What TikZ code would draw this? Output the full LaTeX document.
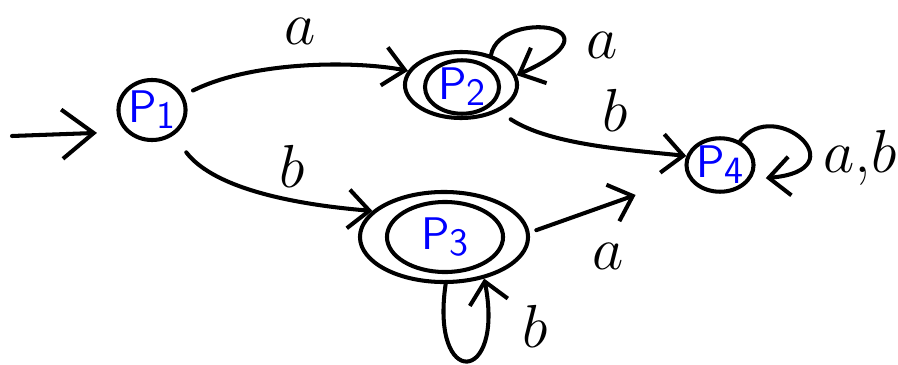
\documentclass[tikz,border=0pt]{standalone}
\usetikzlibrary{arrows.meta,shapes.geometric}
\begin{document}
\begin{tikzpicture}[x=0.01cm,y=-0.01cm, line width=1.15pt, line cap=round, line join=round,
  edge/.style={-{Straight Barb[length=6pt,width=11pt,line width=1.15pt]}},
  startedge/.style={-{Straight Barb[length=9pt,width=14pt,line width=1.15pt]}},
  lab/.style={font=\fontsize{19}{19}\selectfont, inner sep=1pt},
  st/.style={draw, ellipse, inner sep=0pt, text=blue, font=\sffamily\fontsize{13}{13}\selectfont},
  ring/.style={draw, ellipse, inner sep=0pt}]
\useasboundingbox (0,0) rectangle (898,364);
% states
\node[st, minimum width=0.6cm, minimum height=0.6cm] (p1) at (152,110) {P\raisebox{-0.3ex}{\fontsize{11}{11}\selectfont 1}};
\node[ring, minimum width=1.12cm, minimum height=0.66cm] (p2) at (461,85) {};
\node[st, minimum width=0.74cm, minimum height=0.44cm] (p2i) at (462,87) {P\raisebox{-0.3ex}{\fontsize{11}{11}\selectfont 2}};
\node[ring, minimum width=1.68cm, minimum height=0.9cm] (p3) at (444,237) {};
\node[st, minimum width=1.16cm, minimum height=0.7cm] (p3i) at (445,237) {P\raisebox{-0.3ex}{\fontsize{11}{11}\selectfont 3}};
\node[st, minimum width=0.55cm, minimum height=0.5cm] (p4) at (720,165) {P\raisebox{-0.3ex}{\fontsize{11}{11}\selectfont 4}};
% start arrow
\coordinate (s) at (12,136);
\draw[startedge, shorten >=0.29cm] (s) -- (p1.220);
% transitions
\draw[edge, shorten <=3pt] (p1.25) .. controls (250,62) and (350,60) .. (p2.165);
\draw[edge, shorten <=6pt] (p1.-50) .. controls (215,190) and (300,205) .. (p3.160);
\draw[edge, shorten <=4pt] (p2.-35) .. controls (550,145) and (630,150) .. (p4.165);
\draw[edge, shorten <=2pt, shorten >=0.55cm] (p3.3) -- (p4);
% loops
\draw[edge] (p2.45) .. controls (500,8) and (630,25) .. (p2.10);
\draw[edge] (p3.-88) .. controls (430,390) and (505,385) .. (p3.-46);
\draw[edge, shorten >=0.15cm] (p4.50) .. controls (775,95) and (860,170) .. (p4.-25);
% labels
\node[lab] (la1) at (300,31) {$a$};
\node[lab] (lb1) at (292,166) {$b$};
\node[lab] (la2) at (602,45) {$a$};
\node[lab] (lb2) at (615,110) {$b$};
\node[lab] (la3) at (608,256) {$a$};
\node[lab] (lb3) at (535,326) {$b$};
\node[lab] (lab4) at (860,158) {$a$,$b$};
\end{tikzpicture}
\end{document}
